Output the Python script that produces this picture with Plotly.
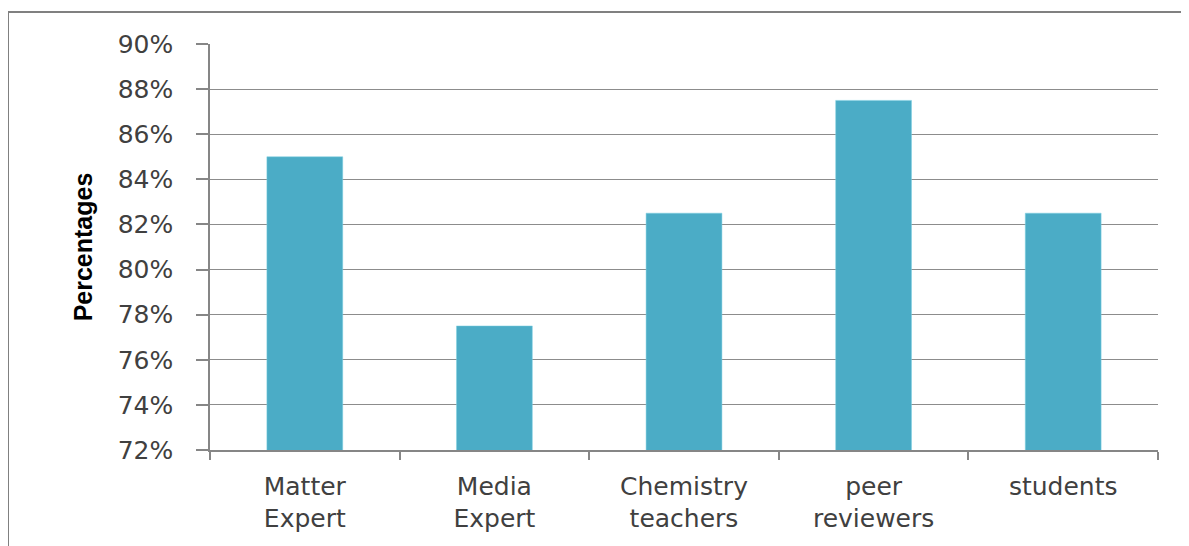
import plotly.graph_objects as go

categories = ["Matter<br>Expert", "Media<br>Expert", "Chemistry<br>teachers", "peer<br>reviewers", "students"]
values = [0.85, 0.775, 0.825, 0.875, 0.825]
y_ticks = [0.72, 0.74, 0.76, 0.78, 0.80, 0.82, 0.84, 0.86, 0.88, 0.90]
y_tick_labels = ["72%", "74%", "76%", "78%", "80%", "82%", "84%", "86%", "88%", "90%"]

OFF = 8  # page body margin
W, H = 1181, 538
L, T = 210 - OFF, 44 - OFF
R = W - (1158 - OFF)
B = H - (450 - OFF)
pw, ph = W - L - R, H - T - B

fig = go.Figure()
fig.add_trace(go.Bar(
    x=categories, y=values,
    marker=dict(color="#4BACC6", line=dict(color="#7FD0E3", width=0.5)),
    width=0.4,
))

def px_x(px):
    return (px - OFF - L) / pw

def px_y(py):
    return (H - B - (py - OFF)) / ph

fig.add_shape(type="rect", xref="paper", yref="paper",
              x0=px_x(8), x1=px_x(1200), y0=px_y(570), y1=px_y(12),
              line=dict(color="#808080", width=2), fillcolor="rgba(0,0,0,0)", layer="below")

fig.update_layout(
    width=W, height=H,
    margin=dict(l=L, r=R, t=T, b=B, pad=0),
    paper_bgcolor="white", plot_bgcolor="white",
    showlegend=False,
    font=dict(family="DejaVu Sans, sans-serif", color="#404040", size=25),
)
fig.update_xaxes(
    type="category",
    showline=True, linecolor="#868686", linewidth=1.5,
    ticks="outside", tickson="boundaries", ticklen=8, tickcolor="#868686", tickwidth=1.5,
    tickfont=dict(size=25, color="#404040"),
    ticklabelstandoff=13,
    showgrid=False,
)
fig.update_yaxes(
    range=[0.72, 0.90],
    tickvals=y_ticks, ticktext=y_tick_labels,
    showline=True, linecolor="#868686", linewidth=1.5,
    ticks="outside", ticklen=12, tickcolor="#868686", tickwidth=1.5,
    ticklabelstandoff=18,
    showgrid=True, gridcolor="#8c8c8c", gridwidth=1.2,
    tickfont=dict(size=25, color="#404040"),
    zeroline=False,
    title=dict(text="<b>Percentages</b>", standoff=18,
               font=dict(family="Liberation Sans Narrow, Arial Narrow, sans-serif", size=25, color="#000000")),
)

fig.write_html("out.html")
